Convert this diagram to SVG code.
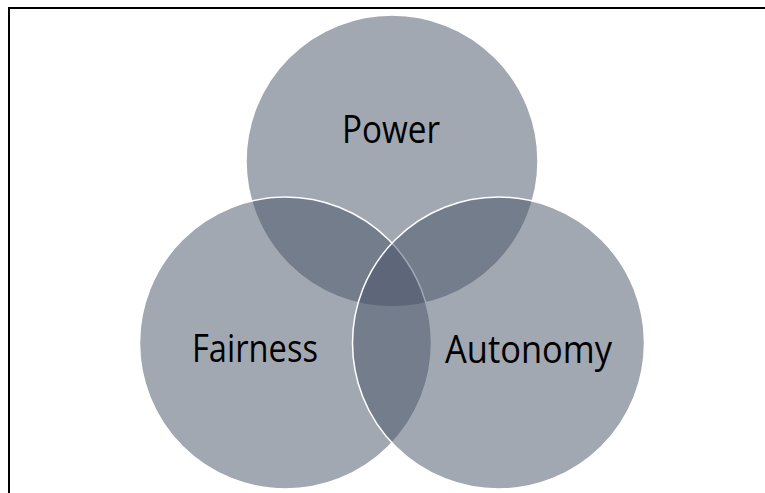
<svg xmlns="http://www.w3.org/2000/svg" width="765" height="493" viewBox="0 0 765 493">
  <style>
    .set { fill: rgb(69,81,101); fill-opacity: 0.5; stroke: #ffffff; stroke-width: 1.5; }
    .label { font-family: "Open Sans", "Liberation Sans", sans-serif; font-size: 38px; fill: #000000; text-anchor: middle; }
  </style>
  <rect width="765" height="493" fill="#ffffff"/>
  <!-- frame: open at right and bottom edges -->
  <path d="M9 493 V8 H765" fill="none" stroke="#000000" stroke-width="2"/>
  <g id="power">
    <circle class="set" cx="392" cy="161" r="146"/>
  </g>
  <g id="fairness">
    <circle class="set" cx="285.5" cy="343" r="146"/>
  </g>
  <g id="autonomy">
    <circle class="set" cx="498.5" cy="343" r="146"/>
  </g>
  <g id="labels">
    <text class="label" x="391" y="143" textLength="98" lengthAdjust="spacingAndGlyphs">Power</text>
    <text class="label" x="255" y="362" textLength="126" lengthAdjust="spacingAndGlyphs">Fairness</text>
    <text class="label" x="528.5" y="363" textLength="167" lengthAdjust="spacingAndGlyphs">Autonomy</text>
  </g>
</svg>
